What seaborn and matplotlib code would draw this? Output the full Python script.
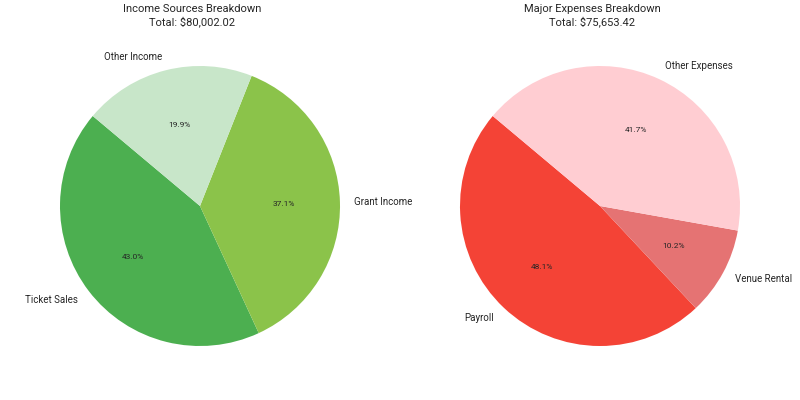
import matplotlib
matplotlib.use("Agg")
import matplotlib.pyplot as plt
import seaborn as sns

sns.set_theme(style="white")
plt.rcParams['font.family'] = ['Roboto', 'DejaVu Sans']

income_labels = ["Ticket Sales", "Grant Income", "Other Income"]
income_values = [34401.0, 29681.0, 15920.02]
income_colors = ["#4caf50", "#8bc34a", "#c8e6c9"]

expense_labels = ["Payroll", "Venue Rental", "Other Expenses"]
expense_values = [36389.0, 7717.0, 31547.42]
expense_colors = ["#f44336", "#e57373", "#ffcdd2"]

fig = plt.figure(figsize=(8, 4), dpi=100)
R = 140.0
for i, (labels, vals, cols, title) in enumerate([
    (income_labels, income_values, income_colors, "Income Sources Breakdown"),
    (expense_labels, expense_values, expense_colors, "Major Expenses Breakdown"),
]):
    ax = fig.add_axes([i * 0.5, 0, 0.5, 1])
    ax.pie(vals, labels=labels, colors=cols, autopct="%1.1f%%", startangle=140,
           wedgeprops={"linewidth": 0}, textprops={"fontsize": 7},
           labeldistance=1.1)
    for t in ax.texts:
        if t.get_text().endswith("%"):
            t.set_fontsize(6)
    ax.set_aspect("auto")
    ax.set_xlim(-200 / R, 200 / R)
    ax.set_ylim(-194 / R, 206 / R)
    ax.axis("off")
    fig.text(0.24 + i * 0.5, 0.99, f"{title}\nTotal: ${sum(vals):,.2f}",
             ha="center", va="top", fontsize=8)
fig.savefig("out.png")
